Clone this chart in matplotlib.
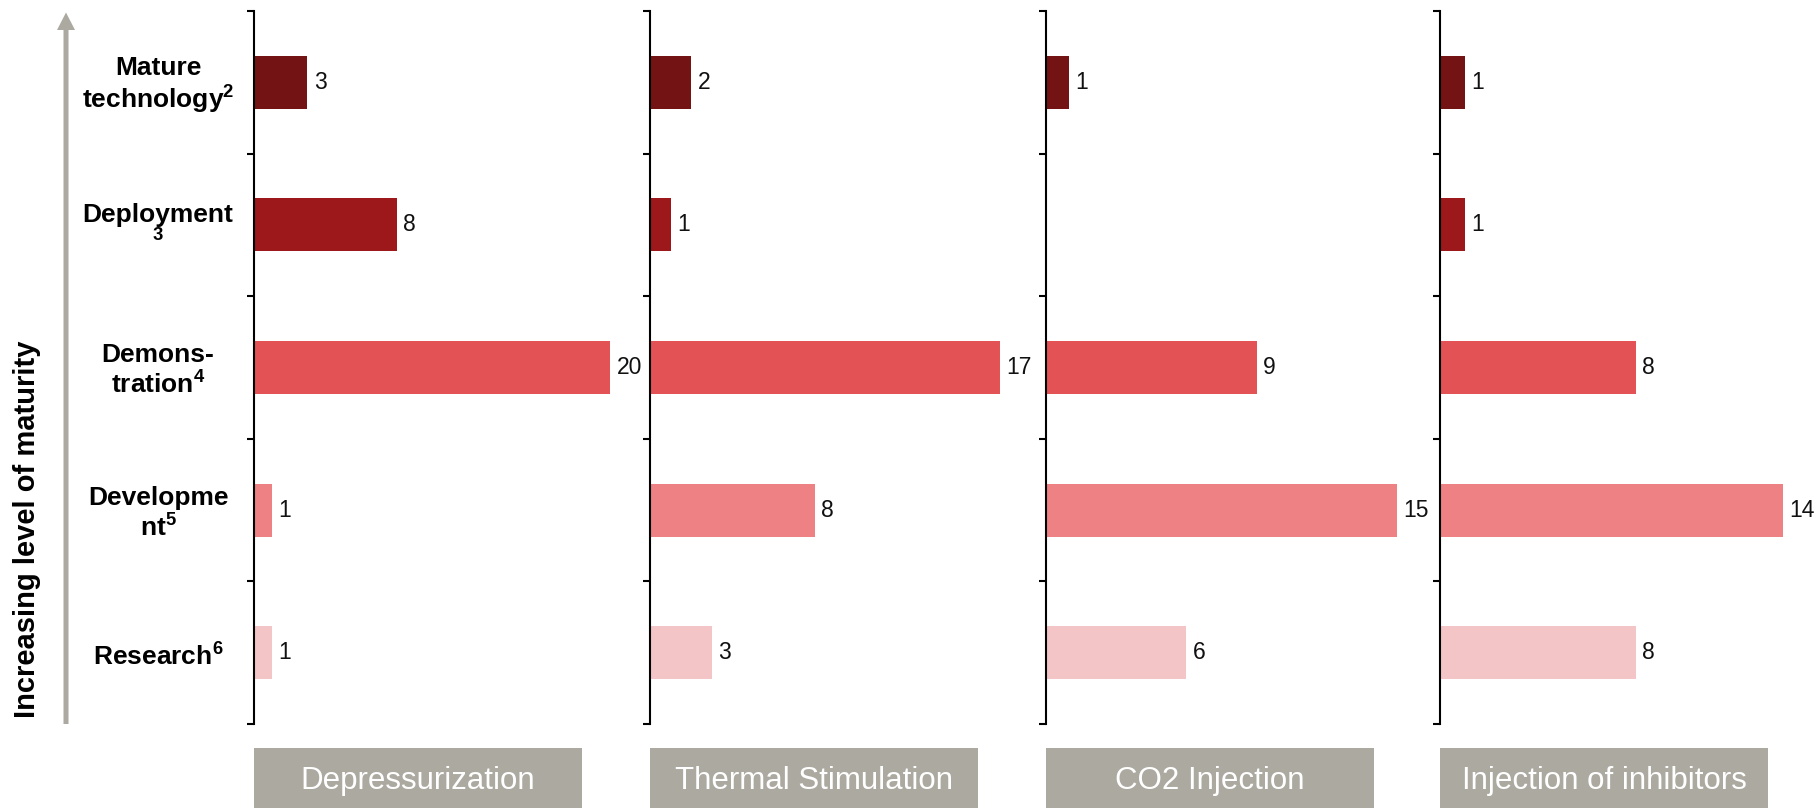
import matplotlib
matplotlib.use("Agg")
import matplotlib.pyplot as plt
from matplotlib.patches import Polygon
from matplotlib.transforms import blended_transform_factory, offset_copy

plt.rcParams['font.family'] = ['Liberation Sans', 'DejaVu Sans']
plt.rcParams['mathtext.fontset'] = 'custom'
plt.rcParams['mathtext.rm'] = 'Liberation Sans'
plt.rcParams['mathtext.bf'] = 'Liberation Sans:bold'

# Maturity stages, listed from the top row down
stages = ["Mature\ntechnology$^{\\mathbf{2}}$", "Deployment\n$^{\\mathbf{3}}$",
          "Demons-\ntration$^{\\mathbf{4}}$", "Developme\nnt$^{\\mathbf{5}}$",
          "Research$^{\\mathbf{6}}$"]
stage_colors = ["#731313", "#9C181B", "#E35355", "#ED8183", "#F4C5C6"]

methods = ["Depressurization", "Thermal Stimulation", "CO2 Injection",
           "Injection of inhibitors"]

depressurization = [3, 8, 20, 1, 1]
thermal_stimulation = [2, 1, 17, 8, 3]
co2_injection = [1, 0, 9, 15, 6]
inhibitor_injection = [1, 1, 8, 14, 8]
series = [depressurization, thermal_stimulation, co2_injection, inhibitor_injection]

# Per-panel horizontal scale limits
x_limits = [21.6, 18.7, 16.45, 15.7]

FW, FH = 1820, 808
fig = plt.figure(figsize=(FW / 100, FH / 100), dpi=100)

panel_left = [254, 650, 1046, 1440]
panel_w = 385
ax_top, ax_bottom = 11, 724
box_w, box_top = 328, 748
grey = "#ACA9A0"

n = len(stages)
ypos = [n - 1 - i for i in range(n)]

axes = []
for left, vals, xmax, name in zip(panel_left, series, x_limits, methods):
    ax = fig.add_axes([left / FW, (FH - ax_bottom) / FH, panel_w / FW,
                       (ax_bottom - ax_top) / FH])
    ax.barh(ypos, vals, height=0.372, color=stage_colors, linewidth=0)
    for y, v in zip(ypos, vals):
        if v:
            ax.annotate(str(v), xy=(v, y), xytext=(4.5, 0),
                        textcoords="offset points", ha="left", va="center",
                        fontsize=16.5, color="#111111")
    ax.set_xlim(0, xmax)
    ax.set_ylim(-0.5, n - 0.5)
    ax.set_yticks([i - 0.5 for i in range(n + 1)])
    ax.set_yticklabels([])
    ax.set_xticks([])
    for s in ("top", "right", "bottom"):
        ax.spines[s].set_visible(False)
    ax.spines["left"].set_linewidth(1.5)
    ax.tick_params(axis="y", length=5, width=1.5, direction="out")
    ax.patch.set_alpha(0)
    axes.append(ax)

    # Method label box underneath the panel
    bax = fig.add_axes([left / FW, 0, box_w / FW, (FH - box_top) / FH])
    bax.set_facecolor(grey)
    bax.set_xticks([])
    bax.set_yticks([])
    for s in bax.spines.values():
        s.set_visible(False)
    bax.text(0.5, 0.45, name, ha="center", va="center", color="white",
             fontsize=22.5, transform=bax.transAxes)

# Stage labels on the left
trans = blended_transform_factory(fig.transFigure, axes[0].transData)
trans = offset_copy(trans, fig=fig, y=-3, units="dots")
for y, label in zip(ypos, stages):
    fig.text(158 / FW, y, label, transform=trans, ha="center", va="center",
             fontsize=19, fontweight="bold", linespacing=1.1)

# Maturity arrow
px = fig.dpi_scale_trans
def P(x, y):
    return (x / 100, (FH - y) / 100)

arrow = Polygon([P(63.5, 724), P(68.5, 724), P(68.5, 30), P(75, 30),
                 P(66, 12.5), P(57, 30), P(63.5, 30)],
                closed=True, transform=px, facecolor=grey, edgecolor="none")
fig.add_artist(arrow)

fig.text(27 / FW, (FH - 529) / FH, "Increasing level of maturity",
         rotation=90, ha="center", va="center", fontsize=21,
         fontweight="bold")

fig.savefig("out.png", dpi=100)
